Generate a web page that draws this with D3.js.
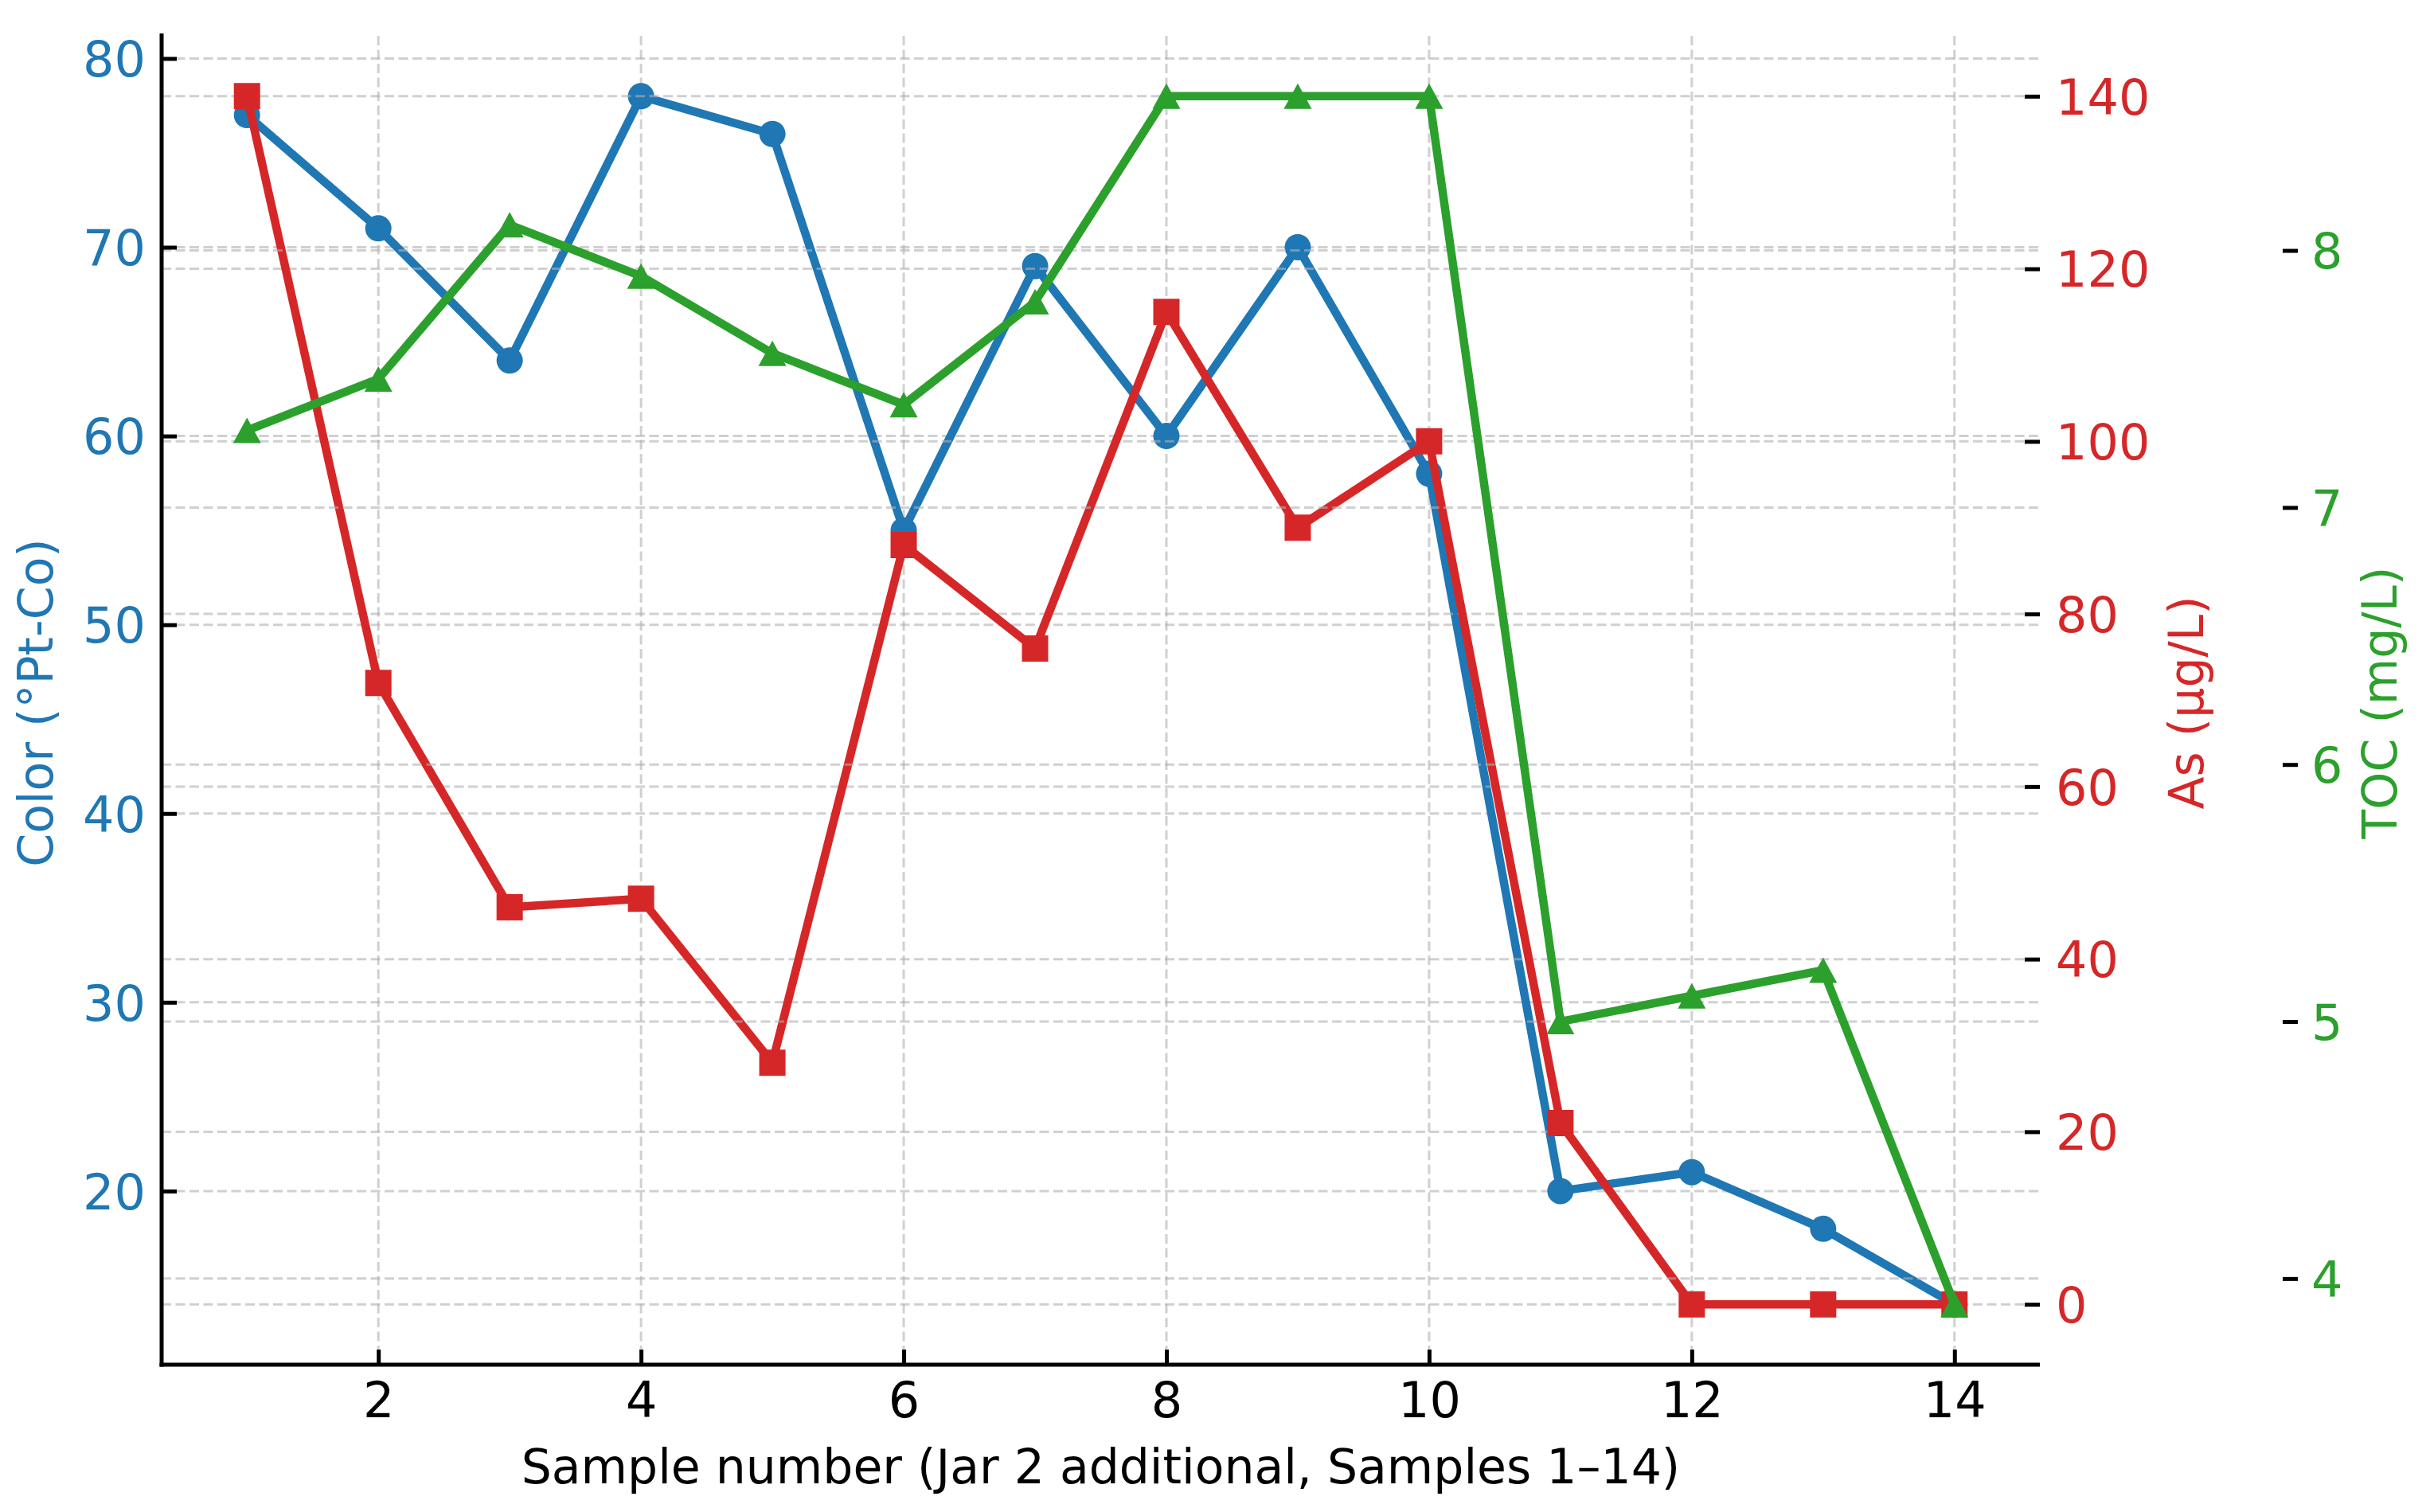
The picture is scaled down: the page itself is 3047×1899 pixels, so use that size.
<!DOCTYPE html>
<html>
<head>
<meta charset="utf-8">
<script src="https://cdn.jsdelivr.net/npm/d3@7"></script>
<style>
  html, body { margin: 0; padding: 0; background: #ffffff; }
  svg { display: block; }
  text { font-family: "DejaVu Sans", sans-serif; }
</style>
</head>
<body>
<svg id="chart" width="3047" height="1899"></svg>
<script>
// ---------------- DATA ----------------
const samples = [1, 2, 3, 4, 5, 6, 7, 8, 9, 10, 11, 12, 13, 14];
const colorValues = [77, 71, 64, 78, 76, 55, 69, 60, 70, 58, 20, 21, 18, 14];          // °Pt-Co
const asValues    = [140, 72, 46, 47, 28, 88, 76, 115, 90, 100, 21, 0, 0, 0];          // µg/L
const tocValues   = [7.3, 7.5, 8.1, 7.9, 7.6, 7.4, 7.8, 8.6, 8.6, 8.6, 5.0, 5.1, 5.2, 3.9]; // mg/L

const xTicks     = [2, 4, 6, 8, 10, 12, 14];
const colorTicks = [20, 30, 40, 50, 60, 70, 80];
const asTicks    = [0, 20, 40, 60, 80, 100, 120, 140];
const tocTicks   = [4, 5, 6, 7, 8];

const xLabel     = "Sample number (Jar 2 additional, Samples 1\u201314)";
const colorLabel = "Color (\u00B0Pt-Co)";
const asLabel    = "As (\u00B5g/L)";
const tocLabel   = "TOC (mg/L)";

// ---------------- STYLE / LAYOUT ----------------
const BLUE = "#1f77b4", RED = "#d62728", GREEN = "#2ca02c";
const plot = { left: 203, right: 2562, top: 45, bottom: 1714 };
const tocSpineX = 2886;
const tickFont = 62, labelFont = 60;
const tickLen = 19, tickW = 5;
const lineW = 10.5;

// matplotlib-like 5% margins
function padded(vals) {
  const lo = d3.min(vals), hi = d3.max(vals), s = hi - lo;
  return [lo - 0.05 * s, hi + 0.05 * s];
}

const x = d3.scaleLinear().domain(padded(samples)).range([plot.left, plot.right]);
const yColor = d3.scaleLinear().domain(padded(colorValues)).range([plot.bottom, plot.top]);
const yAs = d3.scaleLinear().domain(padded(asValues)).range([plot.bottom, plot.top]);
const yToc = d3.scaleLinear().domain(padded(tocValues)).range([plot.bottom, plot.top]);

const svg = d3.select("#chart");
svg.append("rect").attr("width", 3047).attr("height", 1899).attr("fill", "#ffffff");

function hGrid(scale, ticks) {
  const g = svg.append("g");
  g.selectAll("line").data(ticks).enter().append("line")
    .attr("x1", plot.left).attr("x2", plot.right)
    .attr("y1", d => scale(d)).attr("y2", d => scale(d))
    .attr("stroke", "#b0b0b0").attr("stroke-opacity", 0.6)
    .attr("stroke-width", 3).attr("stroke-dasharray", "12,5.5");
}
function vGrid() {
  const g = svg.append("g");
  g.selectAll("line").data(xTicks).enter().append("line")
    .attr("x1", d => x(d)).attr("x2", d => x(d))
    .attr("y1", plot.top).attr("y2", plot.bottom)
    .attr("stroke", "#b0b0b0").attr("stroke-opacity", 0.6)
    .attr("stroke-width", 3).attr("stroke-dasharray", "12,5.5");
}

const triPath = (w, h) => `M0,${-h/2}L${w/2},${h/2}L${-w/2},${h/2}Z`;

function series(vals, scale, color, shape) {
  const g = svg.append("g");
  const line = d3.line().x((d, i) => x(samples[i])).y(d => scale(d));
  g.append("path").datum(vals).attr("d", line)
    .attr("fill", "none").attr("stroke", color).attr("stroke-width", lineW)
    .attr("stroke-linejoin", "round").attr("stroke-linecap", "butt");
  const pts = g.selectAll(".m").data(vals).enter();
  if (shape === "circle") {
    pts.append("circle").attr("cx", (d, i) => x(samples[i])).attr("cy", d => scale(d))
      .attr("r", 16.5).attr("fill", color);
  } else if (shape === "square") {
    pts.append("path").attr("d", d3.symbol().type(d3.symbolSquare).size(33 * 33))
      .attr("transform", (d, i) => `translate(${x(samples[i])},${scale(d)})`)
      .attr("fill", color);
  } else {
    pts.append("path").attr("d", triPath(35, 32))
      .attr("transform", (d, i) => `translate(${x(samples[i])},${scale(d)})`)
      .attr("fill", color);
  }
}

// layer order: ax1 grid, ax1 line, ax2 grid, ax2 line, ax3 grid, ax3 line
vGrid();
hGrid(yColor, colorTicks);
series(colorValues, yColor, BLUE, "circle");
hGrid(yAs, asTicks);
series(asValues, yAs, RED, "square");
hGrid(yToc, tocTicks);
series(tocValues, yToc, GREEN, "triangle");

// ---------------- AXES ----------------
// bottom axis (ticks inward)
const xAxis = d3.axisBottom(x).tickValues(xTicks).tickSize(-tickLen).tickPadding(22).tickFormat(d3.format("d"));
const gx = svg.append("g").attr("transform", `translate(0,${plot.bottom})`).call(xAxis);
gx.select(".domain").remove();
gx.selectAll(".tick line").attr("stroke", "#000").attr("stroke-width", tickW);
gx.selectAll(".tick text").attr("font-size", tickFont).attr("fill", "#000")
  .attr("font-family", "DejaVu Sans").attr("dy", "0.71em");

// left axis (ticks inward)
const yAxisL = d3.axisLeft(yColor).tickValues(colorTicks).tickSize(-tickLen).tickPadding(20).tickFormat(d3.format("d"));
const gl = svg.append("g").attr("transform", `translate(${plot.left},0)`).call(yAxisL);
gl.select(".domain").remove();
gl.selectAll(".tick line").attr("stroke", "#000").attr("stroke-width", tickW);
gl.selectAll(".tick text").attr("font-size", tickFont).attr("fill", BLUE)
  .attr("font-family", "DejaVu Sans").attr("dy", "0.36em");

// As axis (right, ticks inward, no spine)
const yAxisR = d3.axisRight(yAs).tickValues(asTicks).tickSize(-tickLen).tickPadding(20).tickFormat(d3.format("d"));
const gr = svg.append("g").attr("transform", `translate(${plot.right},0)`).call(yAxisR);
gr.select(".domain").remove();
gr.selectAll(".tick line").attr("stroke", "#000").attr("stroke-width", tickW);
gr.selectAll(".tick text").attr("font-size", tickFont).attr("fill", RED)
  .attr("font-family", "DejaVu Sans").attr("dy", "0.36em");

// TOC axis (offset right, ticks inward, no spine)
const yAxisT = d3.axisRight(yToc).tickValues(tocTicks).tickSize(-tickLen).tickPadding(17).tickFormat(d3.format("d"));
const gt = svg.append("g").attr("transform", `translate(${tocSpineX},0)`).call(yAxisT);
gt.select(".domain").remove();
gt.selectAll(".tick line").attr("stroke", "#000").attr("stroke-width", tickW);
gt.selectAll(".tick text").attr("font-size", tickFont).attr("fill", GREEN)
  .attr("font-family", "DejaVu Sans").attr("dy", "0.36em");

// spines: left and bottom only
svg.append("line").attr("x1", plot.left).attr("x2", plot.left)
  .attr("y1", plot.top - 3).attr("y2", plot.bottom + 2.5)
  .attr("stroke", "#000").attr("stroke-width", 5);
svg.append("line").attr("x1", plot.left - 2.5).attr("x2", plot.right)
  .attr("y1", plot.bottom).attr("y2", plot.bottom)
  .attr("stroke", "#000").attr("stroke-width", 5);

// ---------------- LABELS ----------------
const midY = (plot.top + plot.bottom) / 2 + 3;
svg.append("text").text(xLabel)
  .attr("x", (plot.left + plot.right) / 2).attr("y", 1863)
  .attr("text-anchor", "middle").attr("font-size", labelFont).attr("fill", "#000");

svg.append("text").text(colorLabel)
  .attr("transform", `translate(66,${midY}) rotate(-90)`)
  .attr("text-anchor", "middle").attr("font-size", labelFont).attr("fill", BLUE);

svg.append("text").text(asLabel)
  .attr("transform", `translate(2767,${midY}) rotate(-90)`)
  .attr("text-anchor", "middle").attr("font-size", labelFont).attr("fill", RED);

svg.append("text").text(tocLabel)
  .attr("transform", `translate(3010,${midY}) rotate(-90)`)
  .attr("text-anchor", "middle").attr("font-size", labelFont).attr("fill", GREEN);
</script>
</body>
</html>
